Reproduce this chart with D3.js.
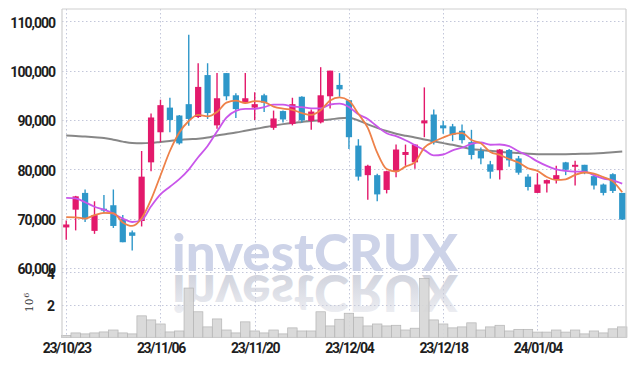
<!DOCTYPE html>
<html><head><meta charset="utf-8">
<script src="https://cdn.jsdelivr.net/npm/d3@7"></script>
<style>
html,body{margin:0;padding:0;background:#fff;}
svg{display:block;}
</style></head>
<body>
<svg id="chart" width="635" height="366"></svg>
<script>
// ---- data ----
const opens  = [68200,71800,75200,67500,72000,72700,69900,67200,69500,81400,
                87500,92500,90900,93200,90600,99100,88900,99500,95000,93500,
                92500,95000,88400,91800,89200,94700,89800,89500,94800,97100,
                94000,84800,78800,78800,75800,79500,82900,81400,89300,91100,
                88900,88700,87800,85500,83700,81000,79800,83900,82200,78500,
                75200,77100,77900,81400,80500,80900,78600,76900,79000,75200];
const closes = [68800,74500,70100,70700,71600,68500,65200,66500,78500,90500,
                93000,90000,85250,90200,96700,91400,94400,94800,92200,94400,
                93200,93500,90300,90100,93200,89900,91700,95000,100000,96200,
                86500,78500,80700,74900,79600,84000,83500,85000,89900,85500,
                88300,87000,85900,82900,82200,79500,84000,81800,79300,76400,
                76900,77800,78800,79900,80900,79300,76700,75200,75600,69800];
const highs  = [69600,74600,75900,73500,74800,75900,70700,67600,83700,91300,
                94100,94500,91000,107300,101500,101500,99500,99500,95400,99500,
                95600,95300,91900,91900,94500,94800,92100,100700,100000,99500,
                94000,86100,80900,79100,79700,85000,85000,85000,96600,92100,
                89800,89200,89100,88000,84400,81700,84100,84100,82700,79000,
                79200,77900,80700,81500,81700,80900,79000,77100,79200,75200];
const lows   = [65700,67600,69300,66900,71000,68100,65200,63500,68400,79600,
                85500,87500,85000,88800,90400,90200,88200,94000,90400,93300,
                90000,91600,88000,89500,88900,89500,88000,89300,92300,94700,
                84100,77700,73800,73500,75100,78400,80700,80100,86500,85000,
                87200,85700,85200,82000,81000,78100,77900,80500,78900,75700,
                75200,75300,77100,78800,76700,79000,75900,74700,75200,69700];
// volume in millions of shares
const volumes = [0.12,0.27,0.21,0.27,0.33,0.45,0.27,0.21,1.32,1.07,
                 0.82,0.33,0.39,3.03,1.57,0.64,1.13,0.45,0.27,0.95,
                 0.39,0.27,0.45,0.21,0.58,0.39,0.39,1.57,0.70,1.11,
                 1.48,1.24,0.70,0.82,0.70,0.74,0.45,0.56,3.62,1.07,
                 0.82,0.58,0.64,0.89,0.45,0.64,0.74,0.39,0.49,0.49,
                 0.32,0.32,0.45,0.32,0.45,0.21,0.39,0.27,0.52,0.64];
// moving averages (short = orange, mid = magenta, long = gray)
const maShort = [70300,70250,70000,70700,71140,71080,69220,68500,70060,73840,
                 78740,83700,87450,89790,91030,90710,91590,93500,93900,93440,
                 93800,93620,92720,92300,92060,91400,91040,91980,93960,94560,
                 93880,91240,88380,83360,80040,79540,80540,81400,84400,85580,
                 86440,87140,87320,85920,85260,83500,82900,82080,81360,80200,
                 79680,78440,77840,77960,78860,79340,79120,78400,77540,75320];
const maMid   = [74200,74100,73300,72400,71800,71000,70000,69300,69700,72490,
                 74910,76460,77980,79930,82440,84730,87650,90480,91850,92240,
                 92260,92610,93110,93100,92750,92600,92330,92350,93130,93310,
                 92640,91140,90180,88660,87300,86710,85890,84890,83880,82810,
                 82990,83840,84360,85160,85420,84970,85020,84700,83640,82730,
                 81590,80670,79960,79660,79530,79510,78780,78120,77750,77090];
const maLong  = [86820,86750,86620,86480,86340,86000,85600,85300,85250,85350,
                 85550,85750,85950,86100,86200,86450,86850,87150,87450,87800,
                 88150,88500,88850,89150,89400,89600,89800,89950,90100,90350,
                 90440,89900,89100,88400,87750,87200,86800,86450,86050,85650,
                 85300,84950,84500,84100,83900,83750,83550,83400,83300,83150,
                 83060,83050,83050,83060,83100,83150,83200,83300,83450,83600];
const priceTicks = [60000,70000,80000,90000,100000,110000];
const volTicks = [2,4];
const dateTickIdx = [0,10,20,30,40,50];
const dateTickLabels = ["23/10/23","23/11/06","23/11/20","23/12/04","23/12/18","24/01/04"];

// ---- layout ----
const L = 62, R = 626, T = 9, MAIN_B = 272.3, VOL_B = 337.3;
const svg = d3.select("#chart");
const idx = d3.range(closes.length);

const x = d3.scaleLinear().domain([-0.45, 59.4]).range([L, R]);
const y = d3.scaleLinear().domain([59100, 112500]).range([MAIN_B, T]);
const yv = d3.scaleLinear().domain([0, 4]).range([VOL_B, MAIN_B]);
const step = x(1) - x(0);

const gridColor = "#c3c7da";
const grid = svg.append("g").attr("stroke", gridColor).attr("stroke-width", 1)
  .attr("stroke-dasharray", "1.5,2.5").attr("fill", "none");
grid.selectAll(".hy").data(priceTicks).join("line")
  .attr("x1", L).attr("x2", R)
  .attr("y1", d => Math.round(y(d)) + 0.5).attr("y2", d => Math.round(y(d)) + 0.5);
grid.selectAll(".hv").data(volTicks).join("line")
  .attr("x1", L).attr("x2", R)
  .attr("y1", d => Math.round(yv(d)) + 0.5).attr("y2", d => Math.round(yv(d)) + 0.5);
grid.selectAll(".vx").data(dateTickIdx).join("line")
  .attr("x1", d => Math.round(x(d)) + 0.5).attr("x2", d => Math.round(x(d)) + 0.5)
  .attr("y1", T).attr("y2", VOL_B);

// ---- watermark with reflection ----
const defs = svg.append("defs");
const grad = defs.append("linearGradient").attr("id", "refl")
  .attr("gradientUnits", "userSpaceOnUse").attr("x1", 0).attr("x2", 0)
  .attr("y1", 271).attr("y2", 230);
grad.append("stop").attr("offset", 0).attr("stop-color", "#c9ccd8").attr("stop-opacity", 0.85);
grad.append("stop").attr("offset", 1).attr("stop-color", "#c9ccd8").attr("stop-opacity", 0.3);
const wm = svg.append("g").attr("font-family", "Lato, 'DejaVu Sans', sans-serif")
  .attr("font-weight", 900).attr("font-size", 52);
wm.append("text").attr("x", 172).attr("y", 271)
  .attr("textLength", 286).attr("lengthAdjust", "spacingAndGlyphs")
  .attr("fill", "#cdd3e8").text("investCRUX");
wm.append("text").attr("x", 172).attr("y", 271)
  .attr("transform", "translate(0,546) scale(1,-1)")
  .attr("textLength", 286).attr("lengthAdjust", "spacingAndGlyphs")
  .attr("fill", "url(#refl)").text("investCRUX");

// ---- volume bars ----
svg.append("g").selectAll("rect").data(idx).join("rect")
  .attr("x", i => x(i - 0.5)).attr("width", step)
  .attr("y", i => yv(volumes[i])).attr("height", i => VOL_B - yv(volumes[i]))
  .attr("fill", "#d6d6d6").attr("fill-opacity", 0.9)
  .attr("stroke", "#b4b4b4").attr("stroke-width", 0.7);

// ---- frame ----
const frame = svg.append("g").attr("stroke", "#cfcfcf").attr("stroke-width", 1.2);
frame.append("line").attr("x1", L).attr("x2", R).attr("y1", T).attr("y2", T);
frame.append("line").attr("x1", L).attr("x2", L).attr("y1", T).attr("y2", VOL_B);
frame.append("line").attr("x1", R).attr("x2", R).attr("y1", T).attr("y2", VOL_B);

// ---- long MA (under candles) ----
const lineGen = arr => d3.line().x(i => x(i)).y(i => y(arr[i])).curve(d3.curveMonotoneX)(idx);
svg.append("path").attr("d", lineGen(maLong)).attr("fill", "none")
  .attr("stroke", "#7a7a7a").attr("stroke-width", 2).attr("stroke-opacity", 0.9);

// ---- candles ----
const UP = "#e3196b", DOWN = "#2e97c9";
const bw = step * 0.66;
const cg = svg.append("g");
const candle = cg.selectAll("g").data(idx).join("g");
candle.append("line")
  .attr("x1", i => x(i)).attr("x2", i => x(i))
  .attr("y1", i => y(highs[i])).attr("y2", i => y(lows[i]))
  .attr("stroke", i => closes[i] >= opens[i] ? UP : DOWN).attr("stroke-width", 1.4);
candle.append("rect")
  .attr("x", i => x(i) - bw / 2).attr("width", bw)
  .attr("y", i => y(Math.max(opens[i], closes[i])))
  .attr("height", i => Math.max(1.5, Math.abs(y(opens[i]) - y(closes[i]))))
  .attr("fill", i => closes[i] >= opens[i] ? UP : DOWN);

// ---- short & mid MA ----
svg.append("path").attr("d", lineGen(maMid)).attr("fill", "none")
  .attr("stroke", "#c956ea").attr("stroke-width", 1.8);
svg.append("path").attr("d", lineGen(maShort)).attr("fill", "none")
  .attr("stroke", "#ee8149").attr("stroke-width", 1.8);

// ---- axes ----
const tickFont = "Roboto, 'DejaVu Sans', sans-serif";
const ya = svg.append("g").attr("transform", `translate(${L},0)`)
  .call(d3.axisLeft(y).tickValues(priceTicks).tickFormat(d3.format(",")).tickSize(0).tickPadding(7));
ya.select(".domain").remove();
ya.selectAll("text").attr("font-family", tickFont).attr("font-size", 14)
  .attr("font-weight", 700).attr("letter-spacing", "-1px").attr("fill", "#1e1e1e").attr("dy", "0.42em");

const va = svg.append("g").attr("transform", `translate(${L},0)`)
  .call(d3.axisLeft(yv).tickValues(volTicks).tickFormat(d3.format("d")).tickSize(0).tickPadding(7));
va.select(".domain").remove();
va.selectAll("text").attr("font-family", tickFont).attr("font-size", 14)
  .attr("font-weight", 700).attr("fill", "#1e1e1e").attr("dy", "0.42em");

const xa = svg.append("g").attr("transform", `translate(0,${VOL_B})`)
  .call(d3.axisBottom(x).tickValues(dateTickIdx).tickFormat((d, k) => dateTickLabels[k]).tickSize(0).tickPadding(6));
xa.select(".domain").remove();
xa.selectAll("text").attr("font-family", tickFont).attr("font-size", 14)
  .attr("font-weight", 700).attr("letter-spacing", "-1.3px").attr("fill", "#1e1e1e");

// ---- volume unit label ----
const unit = svg.append("text").attr("transform", "translate(33,312) rotate(-90)")
  .attr("font-family", "'DejaVu Serif', serif").attr("font-size", 10.5).attr("fill", "#333");
unit.append("tspan").text("10");
unit.append("tspan").attr("dx", 1).attr("dy", -4).attr("font-size", 8).text("6");
</script>
</body></html>
